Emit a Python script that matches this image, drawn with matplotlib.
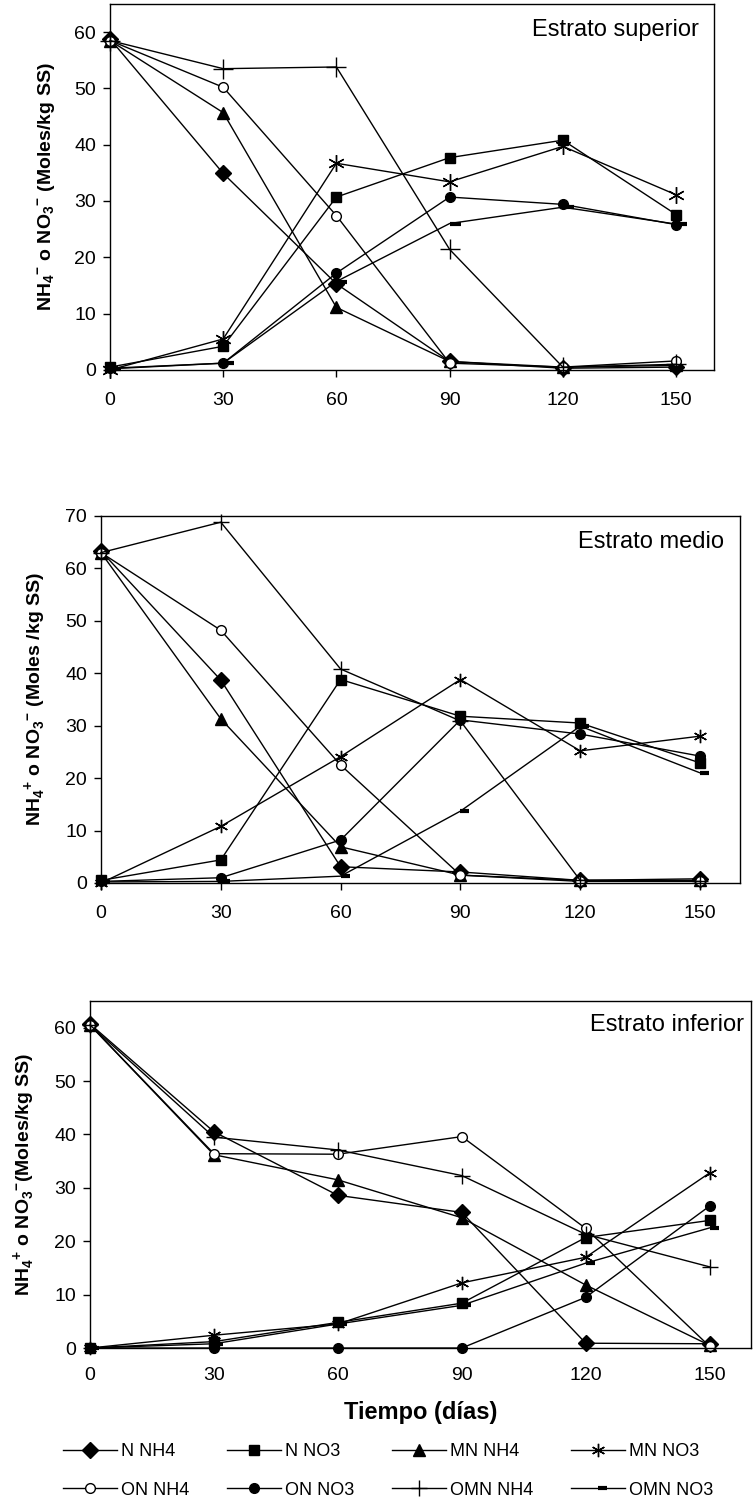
import matplotlib.pyplot as plt
from matplotlib.path import Path

plt.rcParams['font.family'] = ['Liberation Sans', 'DejaVu Sans']
plt.rcParams['mathtext.fontset'] = 'custom'
plt.rcParams['mathtext.rm'] = 'Liberation Sans:bold'
plt.rcParams['mathtext.bf'] = 'Liberation Sans:bold'

dias = [0, 30, 60, 90, 120, 150]
nombres = ["N NH4", "N NO3", "MN NH4", "MN NO3", "ON NH4", "ON NO3", "OMN NH4", "OMN NO3"]

# Estrato superior
sup_n_nh4 = [58.8, 34.9, 15.3, 1.5, 0.3, 0.5]
sup_n_no3 = [0.5, 4.2, 30.7, 37.7, 40.8, 27.6]
sup_mn_nh4 = [58.5, 45.7, 11.1, 1.5, 0.5, 0.8]
sup_mn_no3 = [0.0, 5.5, 36.7, 33.4, 39.7, 31.1]
sup_on_nh4 = [58.5, 50.2, 27.4, 1.2, 0.5, 1.6]
sup_on_no3 = [0.3, 1.2, 17.2, 30.7, 29.4, 25.8]
sup_omn_nh4 = [58.5, 53.5, 53.8, 21.4, 0.5, 1.0]
sup_omn_no3 = [0.2, 1.2, 15.7, 26.0, 28.9, 25.9]

# Estrato medio
med_n_nh4 = [63.3, 38.7, 3.1, 2.1, 0.5, 0.8]
med_n_no3 = [0.5, 4.4, 38.8, 31.8, 30.5, 22.9]
med_mn_nh4 = [63.0, 31.3, 6.9, 1.5, 0.5, 0.5]
med_mn_no3 = [0.0, 10.8, 24.1, 38.8, 25.2, 28.0]
med_on_nh4 = [63.0, 48.2, 22.5, 1.5, 0.3, 0.3]
med_on_no3 = [0.3, 1.0, 8.2, 31.1, 28.4, 24.2]
med_omn_nh4 = [63.0, 68.8, 40.8, 30.9, 0.5, 0.3]
med_omn_no3 = [0.2, 0.3, 1.3, 13.7, 29.9, 21.0]

# Estrato inferior
inf_n_nh4 = [60.7, 40.5, 28.6, 25.4, 0.9, 0.8]
inf_n_no3 = [0.0, 1.2, 4.8, 8.4, 20.7, 23.9]
inf_mn_nh4 = [60.5, 36.2, 31.5, 24.4, 11.8, 0.5]
inf_mn_no3 = [0.0, 2.4, 4.5, 12.2, 17.0, 32.8]
inf_on_nh4 = [60.5, 36.4, 36.3, 39.6, 22.4, 0.3]
inf_on_no3 = [0.0, 0.0, 0.0, 0.0, 9.5, 26.6]
inf_omn_nh4 = [60.5, 39.5, 37.1, 32.3, 21.3, 15.2]
inf_omn_no3 = [0.0, 0.8, 4.5, 8.0, 15.9, 22.5]

guion = Path([(0, 0), (1, 0)], [Path.MOVETO, Path.LINETO])
estilos = [
    dict(marker='D', ms=8, mfc='black'),
    dict(marker='s', ms=7, mfc='black'),
    dict(marker='^', ms=8, mfc='black'),
    dict(marker=(6, 2, 0), ms=12, mew=1.0),
    dict(marker='o', ms=7, mfc='white'),
    dict(marker='o', ms=7, mfc='black'),
    dict(marker='+', ms=14, mew=1.0),
    dict(marker=guion, ms=16, mew=3),
]

paneles = [
    ([sup_n_nh4, sup_n_no3, sup_mn_nh4, sup_mn_no3, sup_on_nh4, sup_on_no3, sup_omn_nh4, sup_omn_no3],
     "Estrato superior", 65, [0.146, 0.7542, 0.802, 0.2432],
     r'NH$_\mathbf{4}$$^\mathbf{-}$ o NO$_\mathbf{3}$$^\mathbf{-}$ (Moles/kg SS)', 12),
    ([med_n_nh4, med_n_no3, med_mn_nh4, med_mn_no3, med_on_nh4, med_on_no3, med_omn_nh4, med_omn_no3],
     "Estrato medio", 70, [0.1341, 0.4133, 0.8486, 0.2439],
     r'NH$_\mathbf{4}$$^\mathbf{+}$ o NO$_\mathbf{3}$$^\mathbf{-}$ (Moles /kg SS)', 12),
    ([inf_n_nh4, inf_n_no3, inf_mn_nh4, inf_mn_no3, inf_on_nh4, inf_on_no3, inf_omn_nh4, inf_omn_no3],
     "Estrato inferior", 65, [0.1195, 0.1043, 0.8778, 0.2306],
     r'NH$_\mathbf{4}$$^\mathbf{+}$ o NO$_\mathbf{3}$$^\mathbf{-}$(Moles/kg SS)', 12),
]

fig = plt.figure(figsize=(7.53, 15.05), dpi=100)

handles = []
for i, (datos, titulo, ymax, pos, ylab, lpad) in enumerate(paneles):
    ax = fig.add_axes(pos)
    escala = 1.0 if i == 0 else 0.8
    for serie, est in zip(datos, estilos):
        est = dict(est)
        if est['marker'] in ('+', guion) or est['marker'] == (6, 2, 0):
            est['ms'] = est['ms'] * escala
        ln, = ax.plot(dias, serie, color='black', lw=1.0, mec='black', clip_on=False, **est)
        if i == 2:
            handles.append(ln)
    ax.set_xlim(0, 160)
    ax.set_ylim(0, ymax)
    ax.set_xticks(dias)
    ax.set_yticks(range(0, ymax + 1, 10))
    ax.tick_params(axis='both', direction='out', length=5, width=1, labelsize=14)
    ax.tick_params(axis='y', pad=5)
    ax.tick_params(axis='x', pad=11)
    if i == 2:
        ax.tick_params(axis='x', length=0, pad=14)
    for s in ax.spines.values():
        s.set_linewidth(1.0)
    ax.text(0.975 if i < 2 else 0.989, 0.93, titulo, transform=ax.transAxes,
            ha='right', va='center', fontsize=17)
    ax.set_ylabel(ylab, fontsize=14, fontweight='bold', labelpad=lpad)
    if i == 2:
        ax.set_xlabel("Tiempo (días)", fontsize=17, fontweight='bold', labelpad=12)

orden = [0, 4, 1, 5, 2, 6, 3, 7]
fig.legend([handles[k] for k in orden], [nombres[k] for k in orden], ncol=4,
           loc='upper left', bbox_to_anchor=(0.062, 0.052), frameon=False,
           fontsize=13, handlelength=3.0, handletextpad=0.2, columnspacing=2.1,
           labelspacing=1.2)

fig.savefig("out.png", dpi=100)
